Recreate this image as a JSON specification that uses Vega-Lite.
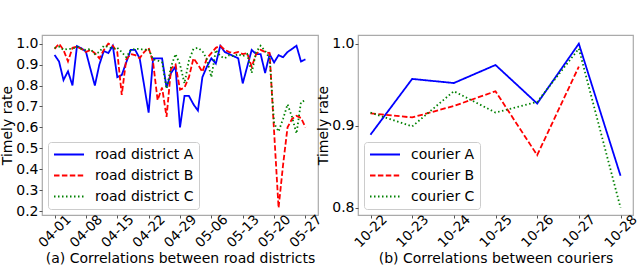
{
"$schema": "https://vega.github.io/schema/vega-lite/v6.json",
"padding": {"left": 0, "top": 34, "right": 0, "bottom": 0},
"spacing": 40,
"bounds": "flush",
"config": {
  "font": "DejaVu Sans",
  "view": {"stroke": "#aaaaaa", "strokeWidth": 1.2},
  "axis": {"grid": false, "domain": false, "labelFontSize": 14, "labelColor": "#000000", "tickColor": "#555555", "tickSize": 3, "labelPadding": 1, "titleFontSize": 14, "titleFontWeight": "normal", "titleColor": "#000000"},
  "legend": {"title": null, "orient": "bottom-left", "offset": 6, "fillColor": "#ffffff", "strokeColor": "#cccccc", "cornerRadius": 3, "padding": 5, "symbolType": "stroke", "symbolSize": 900, "symbolStrokeWidth": 1.8, "labelFontSize": 14, "labelColor": "#000000", "labelOffset": 10, "rowPadding": 6, "clipHeight": 15}
},
"datasets": {
"roads": [
{"d":"2019/04/01","s":"road district A","v":0.946},{"d":"2019/04/02","s":"road district A","v":0.915},{"d":"2019/04/03","s":"road district A","v":0.826},{"d":"2019/04/04","s":"road district A","v":0.868},{"d":"2019/04/05","s":"road district A","v":0.80},{"d":"2019/04/06","s":"road district A","v":0.988},{"d":"2019/04/07","s":"road district A","v":0.978},{"d":"2019/04/08","s":"road district A","v":0.962},{"d":"2019/04/09","s":"road district A","v":0.88},{"d":"2019/04/10","s":"road district A","v":0.80},
{"d":"2019/04/11","s":"road district A","v":0.90},{"d":"2019/04/12","s":"road district A","v":0.965},{"d":"2019/04/13","s":"road district A","v":0.955},{"d":"2019/04/14","s":"road district A","v":0.99},{"d":"2019/04/15","s":"road district A","v":0.84},{"d":"2019/04/16","s":"road district A","v":0.85},{"d":"2019/04/17","s":"road district A","v":0.91},{"d":"2019/04/18","s":"road district A","v":0.97},{"d":"2019/04/19","s":"road district A","v":0.97},{"d":"2019/04/20","s":"road district A","v":0.93},
{"d":"2019/04/21","s":"road district A","v":0.80},{"d":"2019/04/22","s":"road district A","v":0.67},{"d":"2019/04/23","s":"road district A","v":0.93},{"d":"2019/04/24","s":"road district A","v":0.93},{"d":"2019/04/25","s":"road district A","v":0.93},{"d":"2019/04/26","s":"road district A","v":0.79},{"d":"2019/04/27","s":"road district A","v":0.86},{"d":"2019/04/28","s":"road district A","v":0.89},{"d":"2019/04/29","s":"road district A","v":0.60},{"d":"2019/04/30","s":"road district A","v":0.75},
{"d":"2019/05/01","s":"road district A","v":0.75},{"d":"2019/05/02","s":"road district A","v":0.71},{"d":"2019/05/03","s":"road district A","v":0.68},{"d":"2019/05/04","s":"road district A","v":0.84},{"d":"2019/05/05","s":"road district A","v":0.89},{"d":"2019/05/06","s":"road district A","v":0.93},{"d":"2019/05/07","s":"road district A","v":0.905},{"d":"2019/05/08","s":"road district A","v":0.99},{"d":"2019/05/09","s":"road district A","v":0.96},{"d":"2019/05/10","s":"road district A","v":0.95},
{"d":"2019/05/11","s":"road district A","v":0.94},{"d":"2019/05/12","s":"road district A","v":0.93},{"d":"2019/05/13","s":"road district A","v":0.81},{"d":"2019/05/14","s":"road district A","v":0.89},{"d":"2019/05/15","s":"road district A","v":0.97},{"d":"2019/05/16","s":"road district A","v":0.95},{"d":"2019/05/17","s":"road district A","v":0.95},{"d":"2019/05/18","s":"road district A","v":0.86},{"d":"2019/05/19","s":"road district A","v":0.95},{"d":"2019/05/20","s":"road district A","v":0.91},
{"d":"2019/05/21","s":"road district A","v":0.945},{"d":"2019/05/22","s":"road district A","v":0.935},{"d":"2019/05/23","s":"road district A","v":0.96},{"d":"2019/05/24","s":"road district A","v":0.975},{"d":"2019/05/25","s":"road district A","v":0.99},{"d":"2019/05/26","s":"road district A","v":0.915},{"d":"2019/05/27","s":"road district A","v":0.925},

{"d":"2019/04/01","s":"road district B","v":0.975},{"d":"2019/04/02","s":"road district B","v":1.0},{"d":"2019/04/03","s":"road district B","v":0.97},{"d":"2019/04/04","s":"road district B","v":0.915},{"d":"2019/04/05","s":"road district B","v":0.98},{"d":"2019/04/06","s":"road district B","v":0.985},{"d":"2019/04/07","s":"road district B","v":0.975},{"d":"2019/04/08","s":"road district B","v":0.96},{"d":"2019/04/09","s":"road district B","v":0.97},{"d":"2019/04/10","s":"road district B","v":0.955},
{"d":"2019/04/11","s":"road district B","v":0.93},{"d":"2019/04/12","s":"road district B","v":0.97},{"d":"2019/04/13","s":"road district B","v":1.0},{"d":"2019/04/14","s":"road district B","v":0.99},{"d":"2019/04/15","s":"road district B","v":0.96},{"d":"2019/04/16","s":"road district B","v":0.755},{"d":"2019/04/17","s":"road district B","v":0.925},{"d":"2019/04/18","s":"road district B","v":0.95},{"d":"2019/04/19","s":"road district B","v":0.945},{"d":"2019/04/20","s":"road district B","v":0.93},
{"d":"2019/04/21","s":"road district B","v":0.96},{"d":"2019/04/22","s":"road district B","v":0.98},{"d":"2019/04/23","s":"road district B","v":0.91},{"d":"2019/04/24","s":"road district B","v":0.73},{"d":"2019/04/25","s":"road district B","v":0.79},{"d":"2019/04/26","s":"road district B","v":0.65},{"d":"2019/04/27","s":"road district B","v":0.88},{"d":"2019/04/28","s":"road district B","v":0.90},{"d":"2019/04/29","s":"road district B","v":0.78},{"d":"2019/04/30","s":"road district B","v":0.79},
{"d":"2019/05/01","s":"road district B","v":0.84},{"d":"2019/05/02","s":"road district B","v":0.93},{"d":"2019/05/03","s":"road district B","v":0.90},{"d":"2019/05/04","s":"road district B","v":0.865},{"d":"2019/05/05","s":"road district B","v":0.93},{"d":"2019/05/06","s":"road district B","v":0.955},{"d":"2019/05/07","s":"road district B","v":0.98},{"d":"2019/05/08","s":"road district B","v":0.99},{"d":"2019/05/09","s":"road district B","v":0.97},{"d":"2019/05/10","s":"road district B","v":0.96},
{"d":"2019/05/11","s":"road district B","v":0.955},{"d":"2019/05/12","s":"road district B","v":0.96},{"d":"2019/05/13","s":"road district B","v":0.95},{"d":"2019/05/14","s":"road district B","v":0.955},{"d":"2019/05/15","s":"road district B","v":0.89},{"d":"2019/05/16","s":"road district B","v":0.95},{"d":"2019/05/17","s":"road district B","v":0.97},{"d":"2019/05/18","s":"road district B","v":0.96},{"d":"2019/05/19","s":"road district B","v":0.955},{"d":"2019/05/20","s":"road district B","v":0.58},
{"d":"2019/05/21","s":"road district B","v":0.215},{"d":"2019/05/22","s":"road district B","v":0.42},{"d":"2019/05/23","s":"road district B","v":0.60},{"d":"2019/05/24","s":"road district B","v":0.64},{"d":"2019/05/25","s":"road district B","v":0.655},{"d":"2019/05/26","s":"road district B","v":0.645},{"d":"2019/05/27","s":"road district B","v":0.60},

{"d":"2019/04/01","s":"road district C","v":0.98},{"d":"2019/04/02","s":"road district C","v":0.985},{"d":"2019/04/03","s":"road district C","v":0.97},{"d":"2019/04/04","s":"road district C","v":0.975},{"d":"2019/04/05","s":"road district C","v":0.975},{"d":"2019/04/06","s":"road district C","v":0.985},{"d":"2019/04/07","s":"road district C","v":0.975},{"d":"2019/04/08","s":"road district C","v":0.97},{"d":"2019/04/09","s":"road district C","v":0.975},{"d":"2019/04/10","s":"road district C","v":0.95},
{"d":"2019/04/11","s":"road district C","v":0.96},{"d":"2019/04/12","s":"road district C","v":0.99},{"d":"2019/04/13","s":"road district C","v":0.985},{"d":"2019/04/14","s":"road district C","v":0.975},{"d":"2019/04/15","s":"road district C","v":0.98},{"d":"2019/04/16","s":"road district C","v":0.96},{"d":"2019/04/17","s":"road district C","v":0.935},{"d":"2019/04/18","s":"road district C","v":0.97},{"d":"2019/04/19","s":"road district C","v":0.975},{"d":"2019/04/20","s":"road district C","v":0.975},
{"d":"2019/04/21","s":"road district C","v":0.97},{"d":"2019/04/22","s":"road district C","v":0.975},{"d":"2019/04/23","s":"road district C","v":0.925},{"d":"2019/04/24","s":"road district C","v":0.92},{"d":"2019/04/25","s":"road district C","v":0.91},{"d":"2019/04/26","s":"road district C","v":0.785},{"d":"2019/04/27","s":"road district C","v":0.89},{"d":"2019/04/28","s":"road district C","v":0.95},{"d":"2019/04/29","s":"road district C","v":0.90},{"d":"2019/04/30","s":"road district C","v":0.81},
{"d":"2019/05/01","s":"road district C","v":0.92},{"d":"2019/05/02","s":"road district C","v":0.975},{"d":"2019/05/03","s":"road district C","v":0.98},{"d":"2019/05/04","s":"road district C","v":0.965},{"d":"2019/05/05","s":"road district C","v":0.925},{"d":"2019/05/06","s":"road district C","v":0.84},{"d":"2019/05/07","s":"road district C","v":0.97},{"d":"2019/05/08","s":"road district C","v":0.94},{"d":"2019/05/09","s":"road district C","v":0.93},{"d":"2019/05/10","s":"road district C","v":0.945},
{"d":"2019/05/11","s":"road district C","v":0.94},{"d":"2019/05/12","s":"road district C","v":0.95},{"d":"2019/05/13","s":"road district C","v":0.94},{"d":"2019/05/14","s":"road district C","v":0.95},{"d":"2019/05/15","s":"road district C","v":0.86},{"d":"2019/05/16","s":"road district C","v":0.96},{"d":"2019/05/17","s":"road district C","v":0.99},{"d":"2019/05/18","s":"road district C","v":0.965},{"d":"2019/05/19","s":"road district C","v":0.93},{"d":"2019/05/20","s":"road district C","v":0.62},
{"d":"2019/05/21","s":"road district C","v":0.58},{"d":"2019/05/22","s":"road district C","v":0.64},{"d":"2019/05/23","s":"road district C","v":0.71},{"d":"2019/05/24","s":"road district C","v":0.65},{"d":"2019/05/25","s":"road district C","v":0.57},{"d":"2019/05/26","s":"road district C","v":0.72},{"d":"2019/05/27","s":"road district C","v":0.73}
],
"couriers": [
{"d":"2019/10/22","s":"courier A","v":0.889},{"d":"2019/10/23","s":"courier A","v":0.957},{"d":"2019/10/24","s":"courier A","v":0.952},{"d":"2019/10/25","s":"courier A","v":0.974},{"d":"2019/10/26","s":"courier A","v":0.927},{"d":"2019/10/27","s":"courier A","v":1.0},{"d":"2019/10/28","s":"courier A","v":0.839},
{"d":"2019/10/22","s":"courier B","v":0.915},{"d":"2019/10/23","s":"courier B","v":0.910},{"d":"2019/10/24","s":"courier B","v":0.924},{"d":"2019/10/25","s":"courier B","v":0.942},{"d":"2019/10/26","s":"courier B","v":0.864},{"d":"2019/10/27","s":"courier B","v":0.972},
{"d":"2019/10/22","s":"courier C","v":0.916},{"d":"2019/10/23","s":"courier C","v":0.899},{"d":"2019/10/24","s":"courier C","v":0.942},{"d":"2019/10/25","s":"courier C","v":0.916},{"d":"2019/10/26","s":"courier C","v":0.929},{"d":"2019/10/27","s":"courier C","v":0.994},{"d":"2019/10/28","s":"courier C","v":0.80}
]
},
"hconcat": [
{
  "width": 276, "height": 180,
  "data": {"name": "roads"},
  "mark": {"type": "line", "strokeWidth": 1.8},
  "encoding": {
    "x": {"field": "d", "type": "temporal",
      "scale": {"domain": [{"year":2019,"month":3,"date":29,"hours":4,"minutes":48},{"year":2019,"month":5,"date":29,"hours":19,"minutes":12}], "nice": false},
      "axis": {"values": [{"year":2019,"month":4,"date":1},{"year":2019,"month":4,"date":8},{"year":2019,"month":4,"date":15},{"year":2019,"month":4,"date":22},{"year":2019,"month":4,"date":29},{"year":2019,"month":5,"date":6},{"year":2019,"month":5,"date":13},{"year":2019,"month":5,"date":20},{"year":2019,"month":5,"date":27}],
        "format": "%m-%d", "labelAngle": -45, "labelAlign": "center", "labelBaseline": "middle", "labelPadding": 13, "labelFontSize": 13.5, "labelOverlap": false,
        "title": "(a) Correlations between road districts", "titlePadding": 2, "titleFontSize": 14}},
    "y": {"field": "v", "type": "quantitative",
      "scale": {"domain": [0.181, 1.0414], "nice": false, "zero": false},
      "axis": {"values": [0.2,0.3,0.4,0.5,0.6,0.7,0.8,0.9,1.0], "format": ".1f", "title": "Timely rate", "titlePadding": 1}},
    "color": {"field": "s", "type": "nominal",
      "scale": {"domain": ["road district A","road district B","road district C"], "range": ["#0000ff","#ff0000","#008000"]},
      "legend": {"orient": "bottom-left"}},
    "strokeDash": {"field": "s", "type": "nominal",
      "scale": {"domain": ["road district A","road district B","road district C"], "range": [[1,0],[5.5,2.4],[1.5,2.5]]},
      "legend": {"orient": "bottom-left"}}
  }
},
{
  "width": 275, "height": 180,
  "data": {"name": "couriers"},
  "mark": {"type": "line", "strokeWidth": 1.8},
  "encoding": {
    "x": {"field": "d", "type": "temporal",
      "scale": {"domain": [{"year":2019,"month":10,"date":21,"hours":16,"minutes":48},{"year":2019,"month":10,"date":28,"hours":7,"minutes":12}], "nice": false},
      "axis": {"values": [{"year":2019,"month":10,"date":22},{"year":2019,"month":10,"date":23},{"year":2019,"month":10,"date":24},{"year":2019,"month":10,"date":25},{"year":2019,"month":10,"date":26},{"year":2019,"month":10,"date":27},{"year":2019,"month":10,"date":28}],
        "format": "%m-%d", "labelAngle": -45, "labelAlign": "center", "labelBaseline": "middle", "labelPadding": 13, "labelFontSize": 13.5, "labelOverlap": false,
        "title": "(b) Correlations between couriers", "titlePadding": 2, "titleFontSize": 14}},
    "y": {"field": "v", "type": "quantitative",
      "scale": {"domain": [0.791, 1.0106], "nice": false, "zero": false},
      "axis": {"values": [0.8,0.9,1.0], "format": ".1f", "title": "Timely rate", "titlePadding": 1}},
    "color": {"field": "s", "type": "nominal",
      "scale": {"domain": ["courier A","courier B","courier C"], "range": ["#0000ff","#ff0000","#008000"]},
      "legend": {"orient": "bottom-left"}},
    "strokeDash": {"field": "s", "type": "nominal",
      "scale": {"domain": ["courier A","courier B","courier C"], "range": [[1,0],[5.5,2.4],[1.5,2.5]]},
      "legend": {"orient": "bottom-left"}}
  }
}
],
"resolve": {"scale": {"color": "independent", "strokeDash": "independent", "x": "independent", "y": "independent"}, "legend": {"color": "independent", "strokeDash": "independent"}}
}
